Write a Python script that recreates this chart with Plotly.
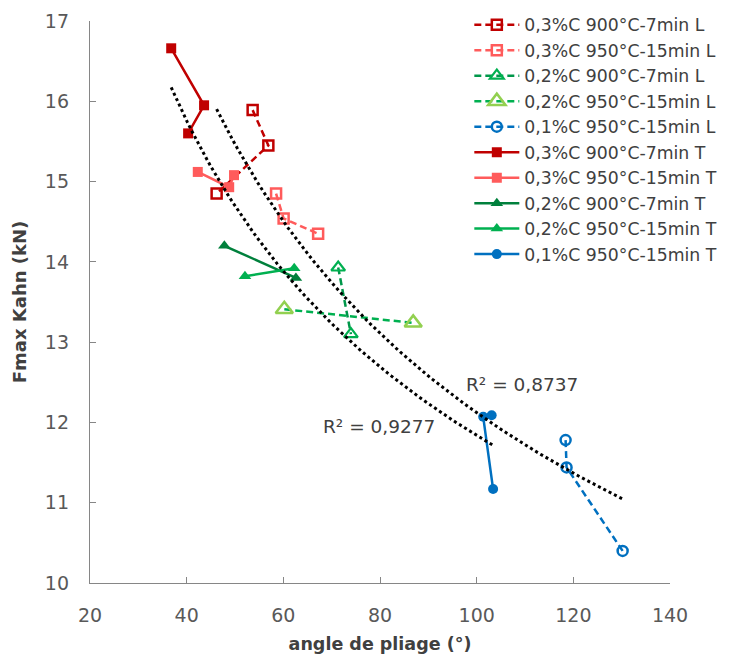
import numpy as np
import plotly.graph_objects as go

# ---- data ----
names = [
    "0,3%C 900°C-7min L", "0,3%C 950°C-15min L", "0,2%C 900°C-7min L",
    "0,2%C 950°C-15min L", "0,1%C 950°C-15min L", "0,3%C 900°C-7min T",
    "0,3%C 950°C-15min T", "0,2%C 900°C-7min T", "0,2%C 950°C-15min T",
    "0,1%C 950°C-15min T",
]
angle_03_900_L = [53.65, 56.9, 46.2]
fmax_03_900_L = [15.89, 15.45, 14.85]
angle_03_950_L = [58.5, 60.06, 67.2]
fmax_03_950_L = [14.85, 14.54, 14.35]
angle_02_900_L = [71.35, 73.98]
fmax_02_900_L = [13.93, 13.10]
angle_02_950_L = [60.2, 86.87]
fmax_02_950_L = [13.41, 13.24]
angle_01_950_L = [118.4, 118.6, 130.2]
fmax_01_950_L = [11.78, 11.44, 10.40]
angle_03_900_T = [36.8, 43.6, 40.3]
fmax_03_900_T = [16.66, 15.95, 15.60]
angle_03_950_T = [42.3, 48.8, 49.8]
fmax_03_950_T = [15.12, 14.93, 15.08]
angle_02_900_T = [47.8, 62.6]
fmax_02_900_T = [14.20, 13.80]
angle_02_950_T = [52.06, 62.25]
fmax_02_950_T = [13.82, 13.92]
angle_01_950_T = [103.1, 101.35, 103.4]
fmax_01_950_T = [12.09, 12.07, 11.17]

r2_labels = ["R² = 0,8737", "R² = 0,9277"]
x_ticks = [20, 40, 60, 80, 100, 120, 140]
y_ticks = [10, 11, 12, 13, 14, 15, 16, 17]

series_x = [angle_03_900_L, angle_03_950_L, angle_02_900_L, angle_02_950_L, angle_01_950_L,
            angle_03_900_T, angle_03_950_T, angle_02_900_T, angle_02_950_T, angle_01_950_T]
series_y = [fmax_03_900_L, fmax_03_950_L, fmax_02_900_L, fmax_02_950_L, fmax_01_950_L,
            fmax_03_900_T, fmax_03_950_T, fmax_02_900_T, fmax_02_950_T, fmax_01_950_T]

# styles
line_colors = ["#C00000", "#FF5B5B", "#00974A", "#00B050", "#0070C0",
               "#C00000", "#FF5B5B", "#00803C", "#00B050", "#0070C0"]
marker_colors = ["#C00000", "#FF5B5B", "#00B050", "#92D050", "#0070C0",
                 "#C00000", "#FF5B5B", "#00803C", "#00B050", "#0070C0"]
symbols = ["square-open", "square-open", "triangle-up-open", "triangle-up-open", "circle-open",
           "square", "square", "triangle-up", "triangle-up", "circle"]
sizes = [10, 10, 12, 15, 10, 10, 10, 11, 11, 10]
open_widths = [2.5, 2.5, 2.2, 2.5, 2.5, 0, 0, 0, 0, 0]
dashes = ["7px,4px"] * 5 + ["solid"] * 5

FONT = "DejaVu Sans"
fig = go.Figure()
for i in range(10):
    fig.add_trace(go.Scatter(
        x=series_x[i], y=series_y[i], name=names[i], mode="lines+markers",
        line=dict(color=line_colors[i], width=2.5, dash=dashes[i]),
        marker=dict(symbol=symbols[i], size=sizes[i], color=marker_colors[i],
                    line=dict(width=open_widths[i], color=marker_colors[i])),
    ))

# power trendlines (fit on L and T groups)
def power_fit(xs, ys):
    xs = np.asarray(xs, float); ys = np.asarray(ys, float)
    b, ln_a = np.polyfit(np.log(xs), np.log(ys), 1)
    xx = np.linspace(xs.min(), xs.max(), 80)
    return xx, np.exp(ln_a) * xx ** b

L_x = sum(series_x[:5], []); L_y = sum(series_y[:5], [])
T_x = sum(series_x[5:], []); T_y = sum(series_y[5:], [])
for gx, gy in [(L_x, L_y), (T_x, T_y)]:
    xx, yy = power_fit(gx, gy)
    fig.add_trace(go.Scatter(x=xx, y=yy, mode="lines", showlegend=False, hoverinfo="skip",
                             line=dict(color="black", width=3, dash="dot")))

fig.add_annotation(x=109.35, y=12.47, text=r2_labels[0], showarrow=False,
                   font=dict(family=FONT, size=18.5, color="#404040"))
fig.add_annotation(x=79.8, y=11.95, text=r2_labels[1], showarrow=False,
                   font=dict(family=FONT, size=18.5, color="#404040"))

axis_common = dict(showgrid=False, zeroline=False, showline=True, linecolor="#868686", linewidth=1.3,
                   ticks="inside", ticklen=6, tickcolor="#868686", automargin=False,
                   tickfont=dict(family=FONT, size=19, color="#595959"))
fig.update_xaxes(range=[20, 140], tickvals=x_ticks, ticklabelstandoff=15, **axis_common,
                 title=dict(text="<b>angle de pliage (°)</b>", font=dict(family=FONT, size=17.5, color="#404040"), standoff=12))
fig.update_yaxes(range=[10, 17], tickvals=y_ticks, ticklabelstandoff=16, **axis_common,
                 title=dict(text="<b>Fmax Kahn (kN)</b>", font=dict(family=FONT, size=18, color="#404040"), standoff=13))

# the page body adds an 8px margin, so the figure is 8px smaller each way
fig.update_layout(
    width=732, height=656, plot_bgcolor="white", paper_bgcolor="white",
    margin=dict(l=82, r=70, t=13, b=81, autoexpand=False),
    legend=dict(x=0.654, y=1.025, xanchor="left", yanchor="top", bgcolor="rgba(0,0,0,0)",
                font=dict(family=FONT, size=17.3, color="#404040"), itemwidth=45),
    font=dict(family=FONT),
)
fig.write_html("out.html")
